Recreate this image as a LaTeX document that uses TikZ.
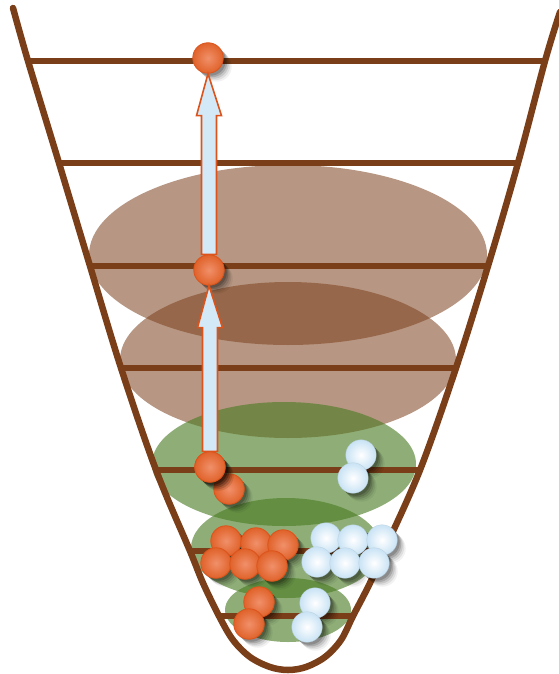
\documentclass[tikz,border=0pt]{standalone}
\usetikzlibrary{calc}
\definecolor{wood}{HTML}{7A3E18}
\definecolor{brownfill}{HTML}{7A3E19}
\definecolor{greenfill}{HTML}{4A7C23}
\definecolor{orangeout}{HTML}{DC541C}
\definecolor{orangein}{HTML}{F0906A}
\definecolor{orangemid}{HTML}{E0622A}
\definecolor{bluein}{HTML}{FFFFFF}
\definecolor{blueout}{HTML}{C9E3F5}
\definecolor{arrowfill}{HTML}{D4E9F7}
\tikzset{
  bar/.style={draw=wood, line width=5.5pt},
  bowl/.style={draw=wood, line width=6.5pt, line cap=round},
  brownlayer/.style={fill=brownfill, fill opacity=0.54},
  greenlayer/.style={fill=greenfill, fill opacity=0.62},
  ballshadow/.style={
    preaction={fill=black, fill opacity=0.05, transform canvas={shift={(8.5pt,-8.5pt)}}},
    preaction={fill=black, fill opacity=0.08, transform canvas={shift={(7pt,-7pt)}}},
    preaction={fill=black, fill opacity=0.11, transform canvas={shift={(5.5pt,-5.5pt)}}},
    preaction={fill=black, fill opacity=0.15, transform canvas={shift={(4pt,-4pt)}}},
    preaction={fill=black, fill opacity=0.18, transform canvas={shift={(2.5pt,-2.5pt)}}}},
  ballbase/.style={circle, minimum size=30.5pt, inner sep=0pt, ballshadow},
  oball/.style={ballbase, draw=orangeout, line width=0.8pt, inner color=orangein, outer color=orangemid},
  bball/.style={ballbase, draw=blueout!80!gray, line width=0.3pt, inner color=bluein, outer color=blueout},
  arrowstyle/.style={draw=orangeout, line width=1.6pt, fill=arrowfill, line join=miter}
}
\newcommand\blockarrow[2]{%
  \draw[arrowstyle] let \p1=(#1), \p2=(#2) in
    (\x1-7.5pt,\y1) -- (\x1-7.5pt,\y2-42pt) -- (\x1-12.5pt,\y2-42pt) -- (\x2,\y2)
    -- (\x1+12.5pt,\y2-42pt) -- (\x1+7.5pt,\y2-42pt) -- (\x1+7.5pt,\y1) -- cycle;}
\begin{document}
\begin{tikzpicture}[x=1pt,y=-1pt]
\useasboundingbox (0,0) rectangle (558,674);
% layers
\fill[brownlayer] (288,255) ellipse [x radius=199, y radius=90];
\fill[brownlayer] (288,360) ellipse [x radius=168, y radius=78];
\fill[greenlayer] (284,464) ellipse [x radius=132, y radius=62];
\fill[greenlayer] (286,548) ellipse [x radius=95, y radius=50];
\fill[greenlayer] (288,610) ellipse [x radius=63, y radius=32];
% horizontal levels
\foreach \yy/\xl/\xr in {61/28/544, 163/59/518, 266/90/488, 368/121/456, 470/156/420, 551/190/384, 616/219/353}{
  \coordinate (L\yy) at (\xl,\yy);
  \coordinate (R\yy) at (\xr,\yy);
  \draw[bar] (L\yy) -- (R\yy);
}
% bowl
\draw[bowl] plot[smooth, tension=0.55] coordinates {(13,8) (28,61) (59,163) (90,266) (121,368) (156,470) (190,551) (203,583) (219,616) (233,640) (250,657) (270,667) (288,670) (306,667) (325,657) (341,640) (353,616) (370,583) (384,551) (420,470) (456,368) (488,266) (518,163) (545,61) (560,12)};
% balls
\node[oball] (o1) at (208,58) {};
\node[oball] (o2) at (209,270) {};
\node[oball] (o4) at (229,489) {};
\node[oball] (o3) at (210,467) {};
\node[oball] (c1) at (226,541) {};
\node[oball] (c2) at (256,543) {};
\node[oball] (c3) at (283,545) {};
\node[oball] (c4) at (216,563) {};
\node[oball] (c5) at (245,564) {};
\node[oball] (c6) at (272,566) {};
\node[oball] (d1) at (259,602) {};
\node[oball] (d2) at (249,624) {};
\node[bball] (w1) at (361,455) {};
\node[bball] (w2) at (353,478) {};
\node[bball] (k1) at (326,538) {};
\node[bball] (k2) at (353,540) {};
\node[bball] (k3) at (382,540) {};
\node[bball] (k4) at (317,562) {};
\node[bball] (k5) at (345,563) {};
\node[bball] (k6) at (374,563) {};
\node[bball] (e1) at (315,603) {};
\node[bball] (e2) at (307,627) {};
% arrows
\blockarrow{o2.north}{o1.south}
\blockarrow{o3.north}{o2.south}
\node[oball] at (o3) {};
\end{tikzpicture}
\end{document}
